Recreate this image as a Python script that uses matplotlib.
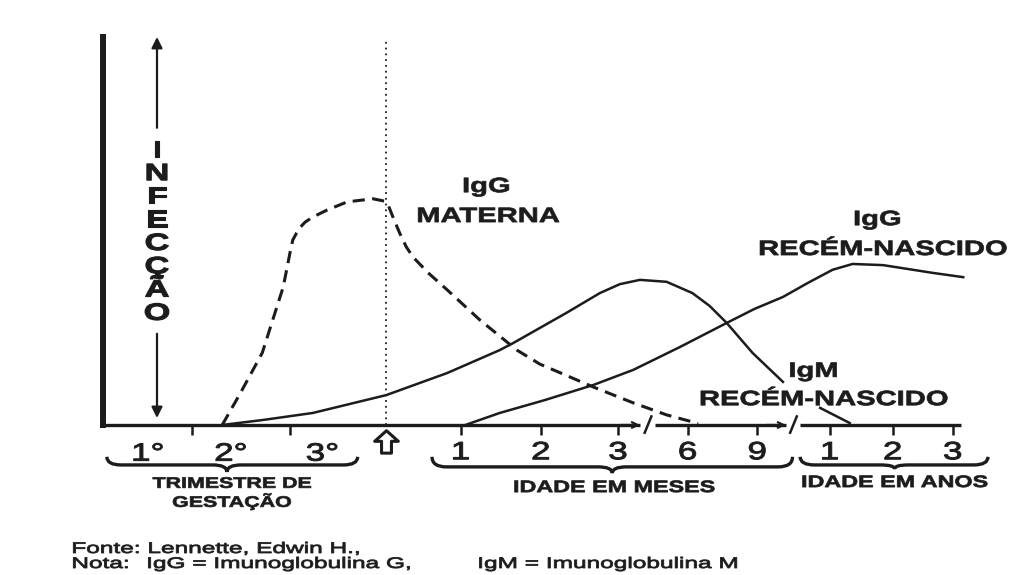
import numpy as np
import matplotlib
matplotlib.use("Agg")
import matplotlib.pyplot as plt
from matplotlib.patheffects import AbstractPathEffect
from matplotlib.transforms import Affine2D
from matplotlib.path import Path
from matplotlib.patches import PathPatch

plt.rcParams['font.family'] = ['Liberation Sans', 'DejaVu Sans']

INK = '#1c1c1c'

""" Data (read off the scan) """
# x: position along the sketch axis, y: relative antibody level (0-10)

igg_maternal_x = [1.25, 1.44, 1.67, 1.78, 1.89, 1.96, 1.99, 2.03, 2.07, 2.12, 2.20, 2.35,
                  2.56, 2.83, 2.95, 2.99, 3.04, 3.11, 3.18, 3.25, 3.41, 3.61, 3.95, 4.34,
                  4.58, 5.14, 5.56, 5.91, 6.15, 6.24]
igg_maternal_y = [0.00, 0.82, 1.86, 2.71, 3.56, 4.43, 4.77, 4.95, 5.10, 5.23, 5.36, 5.54,
                  5.75, 5.83, 5.77, 5.67, 5.36, 4.95, 4.59, 4.33, 3.92, 3.48, 2.71, 1.93,
                  1.57, 0.98, 0.57, 0.26, 0.10, 0.03]

# gap where the curve runs behind the "RECÉM-NASCIDO" label
igm_newborn_x = [1.25, 1.68, 2.20, 2.97, 3.61, 4.16, 4.30, 4.58, 4.86, 5.21, 5.42, 5.63,
                 5.91, 6.18, 6.36, 6.54, 6.81, 7.13, np.nan, 7.52, 7.83]
igm_newborn_y = [0.00, 0.13, 0.31, 0.77, 1.34, 1.93, 2.11, 2.50, 2.89, 3.40, 3.63, 3.74,
                 3.69, 3.40, 3.07, 2.63, 1.86, 1.11, np.nan, 0.44, 0.05]

igg_newborn_x = [3.80, 4.16, 4.63, 5.14, 5.56, 6.05, 6.54, 6.83, 7.13, 7.39, 7.65, 7.86,
                 8.18, 8.70, 9.02]
igg_newborn_y = [0.00, 0.31, 0.64, 1.03, 1.42, 2.01, 2.63, 2.99, 3.30, 3.66, 4.00, 4.15,
                 4.12, 3.92, 3.81]

birth_x = 2.97
trimester_ticks = [0.93, 1.96]
trimester_label_x = [0.47, 1.34, 2.30]
trimester_labels = ['1°', '2°', '3°']
age_ticks = [3.75, 4.59, 5.40, 6.13, 6.86, 7.62, 8.28, 8.91]
age_labels = ['1', '2', '3', '6', '9', '1', '2', '3']
axis_breaks = [(5.63, 5.79), (7.16, 7.31)]
axis_end = 9.0


class Wide(AbstractPathEffect):
    """ Stretches glyphs sideways (the scanned lettering is ~1.4x wider than normal)
        and optionally thickens them a little, like ink spread on the scan. """

    def __init__(self, sx=1.4, anchor="center", ink=0.0):
        super().__init__()
        self.sx = sx
        self.anchor = anchor
        self.ink = ink

    def draw_path(self, renderer, gc, tpath, affine, rgbFace=None):
        ext = tpath.get_extents()
        x0 = ext.x0 if self.anchor == "left" else (ext.x0 + ext.x1) / 2
        stretch = Affine2D().translate(-x0, 0).scale(self.sx, 1).translate(x0, 0)
        gc0 = renderer.new_gc()
        gc0.copy_properties(gc)
        if self.ink and rgbFace is not None:
            gc0.set_linewidth(self.ink)
            gc0.set_foreground(rgbFace)
            gc0.set_joinstyle('round')
        renderer.draw_path(gc0, tpath, stretch + affine, rgbFace)
        gc0.restore()


def brace(ax, xa, xb, xm, y, rise, tip, rx=0.15):
    verts = [(xa, y + rise), (xa, y), (xa + rx, y),
             (xm - rx, y), (xm, y), (xm, y - tip),
             (xm, y), (xm + rx, y),
             (xb - rx, y), (xb, y), (xb, y + rise)]
    codes = [Path.MOVETO, Path.CURVE3, Path.CURVE3,
             Path.LINETO, Path.CURVE3, Path.CURVE3,
             Path.CURVE3, Path.CURVE3,
             Path.LINETO, Path.CURVE3, Path.CURVE3]
    ax.add_patch(PathPatch(Path(verts, codes), fill=False, lw=2.4, ec=INK, clip_on=False))


def label(ax, x, y, s, size, weight='bold', sx=1.4, ink=0.5):
    ax.text(x, y, s, ha='center', va='baseline', fontsize=size, fontweight=weight,
            color=INK, clip_on=False, path_effects=[Wide(sx, ink=ink)])


""" Plot """

fig = plt.figure(figsize=(10.15, 5.75), dpi=100)
ax = fig.add_axes([0.1015, 0.2609, 0.8503, 0.6748])
ax.set_xlim(0, 9.05)
ax.set_ylim(0, 10)

# Axes
for side in ('top', 'right', 'bottom'):
    ax.spines[side].set_visible(False)
ax.spines['left'].set_linewidth(4.3)
ax.spines['left'].set_color(INK)
ax.set_yticks([])

seg_x = [0] + [v for b in axis_breaks for v in b] + [axis_end]
for x0, x1 in zip(seg_x[::2], seg_x[1::2]):
    ax.plot([x0, x1], [0, 0], color=INK, lw=2.4, solid_capstyle='butt', clip_on=False)
for g0, g1 in axis_breaks:
    ax.annotate('', xy=(g0, 0), xytext=(g0 - 0.2, 0), annotation_clip=False,
                arrowprops=dict(arrowstyle='->', lw=1.6, color=INK, shrinkA=0, shrinkB=0))
    mid = (g0 + g1) / 2
    ax.plot([mid - 0.03, mid + 0.04], [-0.2, 0.22], color=INK, lw=1.8, clip_on=False)

ax.set_xticks(trimester_ticks + age_ticks, [''] * len(trimester_ticks) + age_labels)
ax.set_xticks(trimester_label_x, trimester_labels, minor=True)
ax.tick_params(axis='x', which='major', length=7, width=1.8, color=INK, pad=4,
               labelsize=18, labelcolor=INK)
ax.tick_params(axis='x', which='minor', length=0, pad=12, labelsize=18, labelcolor=INK)
for lbl in ax.get_xticklabels(which='both'):
    lbl.set_path_effects([Wide(1.4, ink=0.7)])

# hollow arrow marking birth
up_arrow = Path([(-1, 0.1), (0, 1), (1, 0.1), (0.42, 0.1), (0.42, -0.9), (-0.42, -0.9),
                 (-0.42, 0.1), (-1, 0.1)], closed=True)
ax.plot([birth_x], [-0.45], marker=up_arrow, ms=17, mfc='white', mec=INK, mew=2.2,
        clip_on=False)

# Curves
ax.plot(igg_maternal_x, igg_maternal_y, color=INK, lw=2.2, ls=(0, (4, 2.4)))
ax.plot(igm_newborn_x, igm_newborn_y, color=INK, lw=1.8)
ax.plot(igg_newborn_x, igg_newborn_y, color=INK, lw=1.8)
ax.plot([birth_x, birth_x], [0, 9.97], color=INK, lw=1.3, ls=(0, (1, 2.2)))

# Vertical "INFECÇÃO" arrow
arrow_x = 0.566
ax.annotate('', xy=(arrow_x, 10), xytext=(arrow_x, 7.66), annotation_clip=False,
            arrowprops=dict(arrowstyle='-|>', lw=1.6, color=INK, mutation_scale=16,
                            shrinkA=0, shrinkB=0))
ax.annotate('', xy=(arrow_x, 0.18), xytext=(arrow_x, 2.35), annotation_clip=False,
            arrowprops=dict(arrowstyle='-|>', lw=1.6, color=INK, mutation_scale=16,
                            shrinkA=0, shrinkB=0))
for ch, y in zip('INFECÇÃO', np.linspace(6.91, 2.71, 8)):
    label(ax, arrow_x, y, ch, 17, sx=1.45, ink=0.8)

# Curve labels
label(ax, 4.02, 6.00, 'IgG', 15)
label(ax, 4.04, 5.23, 'MATERNA', 15)
label(ax, 8.12, 5.15, 'IgG', 15)
label(ax, 8.18, 4.38, 'RECÉM-NASCIDO', 15)
label(ax, 7.45, 1.24, 'IgM', 15)
label(ax, 7.56, 0.51, 'RECÉM-NASCIDO', 15)

# Braces and period names under the axis
brace(ax, 0.04, 2.67, 1.30, -1.03, 0.21, 0.18)
brace(ax, 3.45, 7.23, 5.34, -1.08, 0.26, 0.16)
brace(ax, 7.31, 9.28, 8.30, -1.03, 0.21, 0.10)
label(ax, 1.35, -1.62, 'TRIMESTRE DE', 11)
label(ax, 1.35, -2.11, 'GESTAÇÃO', 11)
label(ax, 5.36, -1.73, 'IDADE EM MESES', 12)
label(ax, 8.30, -1.60, 'IDADE EM ANOS', 12)

# Footer
foot = dict(fontsize=11, color=INK, ha='left', va='baseline',
            path_effects=[Wide(1.6, anchor='left', ink=0.6)])
fig.text(0.071, 0.0383, 'Fonte: Lennette, Edwin H.,', **foot)
fig.text(0.071, 0.0122, 'Nota:', **foot)
fig.text(0.1448, 0.0122, 'IgG = Imunoglobulina G,', **foot)
fig.text(0.471, 0.0122, 'IgM = Imunoglobulina M', **foot)

fig.savefig('out.png', dpi=100, facecolor='white')
